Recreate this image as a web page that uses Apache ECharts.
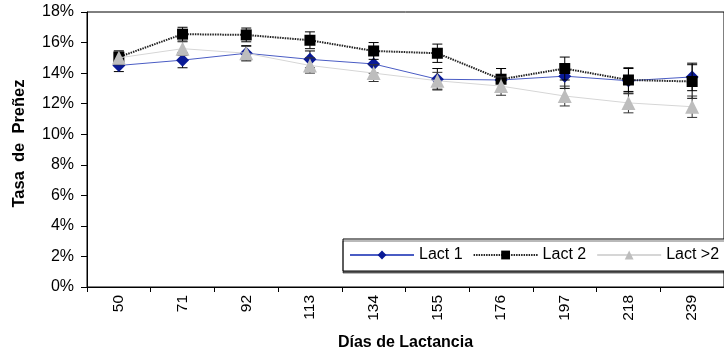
<!DOCTYPE html>
<html>
<head>
<meta charset="utf-8">
<script src="https://cdn.jsdelivr.net/npm/echarts@6/dist/echarts.min.js"></script>
<style>html,body{margin:0;padding:0;background:#fff;}#c{width:724px;height:356px;}</style>
</head>
<body>
<div id="c"></div>
<script>
const days = ['50','71','92','113','134','155','176','197','218','239'];
const lact1 = [14.5, 14.85, 15.3, 14.9, 14.6, 13.6, 13.55, 13.8, 13.5, 13.75];
const lact2 = [15.05, 16.55, 16.5, 16.15, 15.45, 15.3, 13.6, 14.3, 13.55, 13.45];
const lact3 = [15.0, 15.6, 15.3, 14.5, 14.0, 13.5, 13.15, 12.5, 12.05, 11.8];
const err1 = [0.4, 0.5, 0.5, 0.55, 0.6, 0.7, 0.75, 0.8, 0.85, 0.9];
const err2 = [0.4, 0.45, 0.45, 0.55, 0.55, 0.6, 0.7, 0.75, 0.75, 1.1];
const err3 = [0.45, 0.45, 0.45, 0.5, 0.55, 0.55, 0.6, 0.65, 0.65, 0.7];
const seriesNames = ['Lact 1', 'Lact 2', 'Lact >2'];
const yAxisTitle = 'Tasa  de  Preñez';
const xAxisTitle = 'Días de Lactancia';

function errData(vals, errs) {
  return vals.map((v, i) => [i, v - errs[i], v + errs[i]]);
}
function errSeries(vals, errs, color, z) {
  return {
    type: 'custom',
    z: z,
    silent: true,
    data: errData(vals, errs),
    renderItem: function (params, api) {
      const lo = api.coord([api.value(0), api.value(1)]);
      const hi = api.coord([api.value(0), api.value(2)]);
      const hw = 5;
      const st = { stroke: color, lineWidth: 1 };
      return {
        type: 'group',
        children: [
          { type: 'line', shape: { x1: lo[0], y1: lo[1], x2: hi[0], y2: hi[1] }, style: st },
          { type: 'line', shape: { x1: lo[0] - hw, y1: lo[1], x2: lo[0] + hw, y2: lo[1] }, style: st },
          { type: 'line', shape: { x1: hi[0] - hw, y1: hi[1], x2: hi[0] + hw, y2: hi[1] }, style: st }
        ]
      };
    }
  };
}

const chart = echarts.init(document.getElementById('c'), null, { renderer: 'canvas' });
const font = 'Liberation Sans, Arial, sans-serif';
chart.setOption({
  animation: false,
  textStyle: { fontFamily: font },
  grid: { left: 87, top: 12, width: 638, height: 275, show: true, borderColor: '#000', borderWidth: 1, backgroundColor: 'transparent' },
  legend: {
    left: 343, top: 239, width: 420,
    orient: 'horizontal',
    data: seriesNames,
    itemWidth: 64, itemHeight: 11, itemGap: 10,
    padding: [8, 6, 8, 6],
    borderColor: '#000', borderWidth: 1,
    backgroundColor: '#fff',
    shadowColor: 'rgba(0,0,0,0.55)', shadowOffsetY: 2, shadowOffsetX: 0, shadowBlur: 0,
    textStyle: { fontFamily: font, fontSize: 16, color: '#000' }
  },
  xAxis: {
    type: 'category', data: days, boundaryGap: true,
    axisLine: { lineStyle: { color: '#000', width: 1 } },
    axisTick: { show: true, inside: false, length: 5, lineStyle: { color: '#000' } },
    axisLabel: { rotate: 90, margin: 8, fontSize: 15.5, color: '#000', fontFamily: font },
    name: xAxisTitle, nameLocation: 'middle', nameGap: 48,
    nameTextStyle: { fontWeight: 'bold', fontSize: 16, color: '#000', fontFamily: font }
  },
  yAxis: {
    type: 'value', min: 0, max: 18, interval: 2,
    splitLine: { show: false },
    axisLine: { show: true, lineStyle: { color: '#000', width: 1 } },
    axisTick: { show: true, inside: false, length: 6, lineStyle: { color: '#000' } },
    axisLabel: { formatter: '{value}%', margin: 13, fontSize: 16, color: '#000', fontFamily: font },
    name: yAxisTitle, nameLocation: 'middle', nameGap: 59, nameRotate: 90,
    nameTextStyle: { fontWeight: 'bold', fontSize: 16.5, color: '#000', fontFamily: font, padding: [0, 0, 0, 12] }
  },
  series: [
    errSeries(lact1, err1, '#000', 2),
    {
      name: seriesNames[0], type: 'line', data: lact1, z: 3,
      symbol: 'diamond', symbolSize: 13,
      itemStyle: { color: '#0a1a96' },
      lineStyle: { color: '#4a5cc4', width: 1 }
    },
    errSeries(lact2, err2, '#000', 4),
    {
      name: seriesNames[1], type: 'line', data: lact2, z: 5,
      symbol: 'rect', symbolSize: 11,
      itemStyle: { color: '#000' },
      lineStyle: { color: '#222', width: 2, type: [1.5, 1] }
    },
    errSeries(lact3, err3, '#333', 6),
    {
      name: seriesNames[2], type: 'line', data: lact3, z: 7,
      symbol: 'triangle', symbolSize: 14,
      itemStyle: { color: '#bdbdbd' },
      lineStyle: { color: '#d6d6d6', width: 1 }
    }
  ]
});
</script>
</body>
</html>
